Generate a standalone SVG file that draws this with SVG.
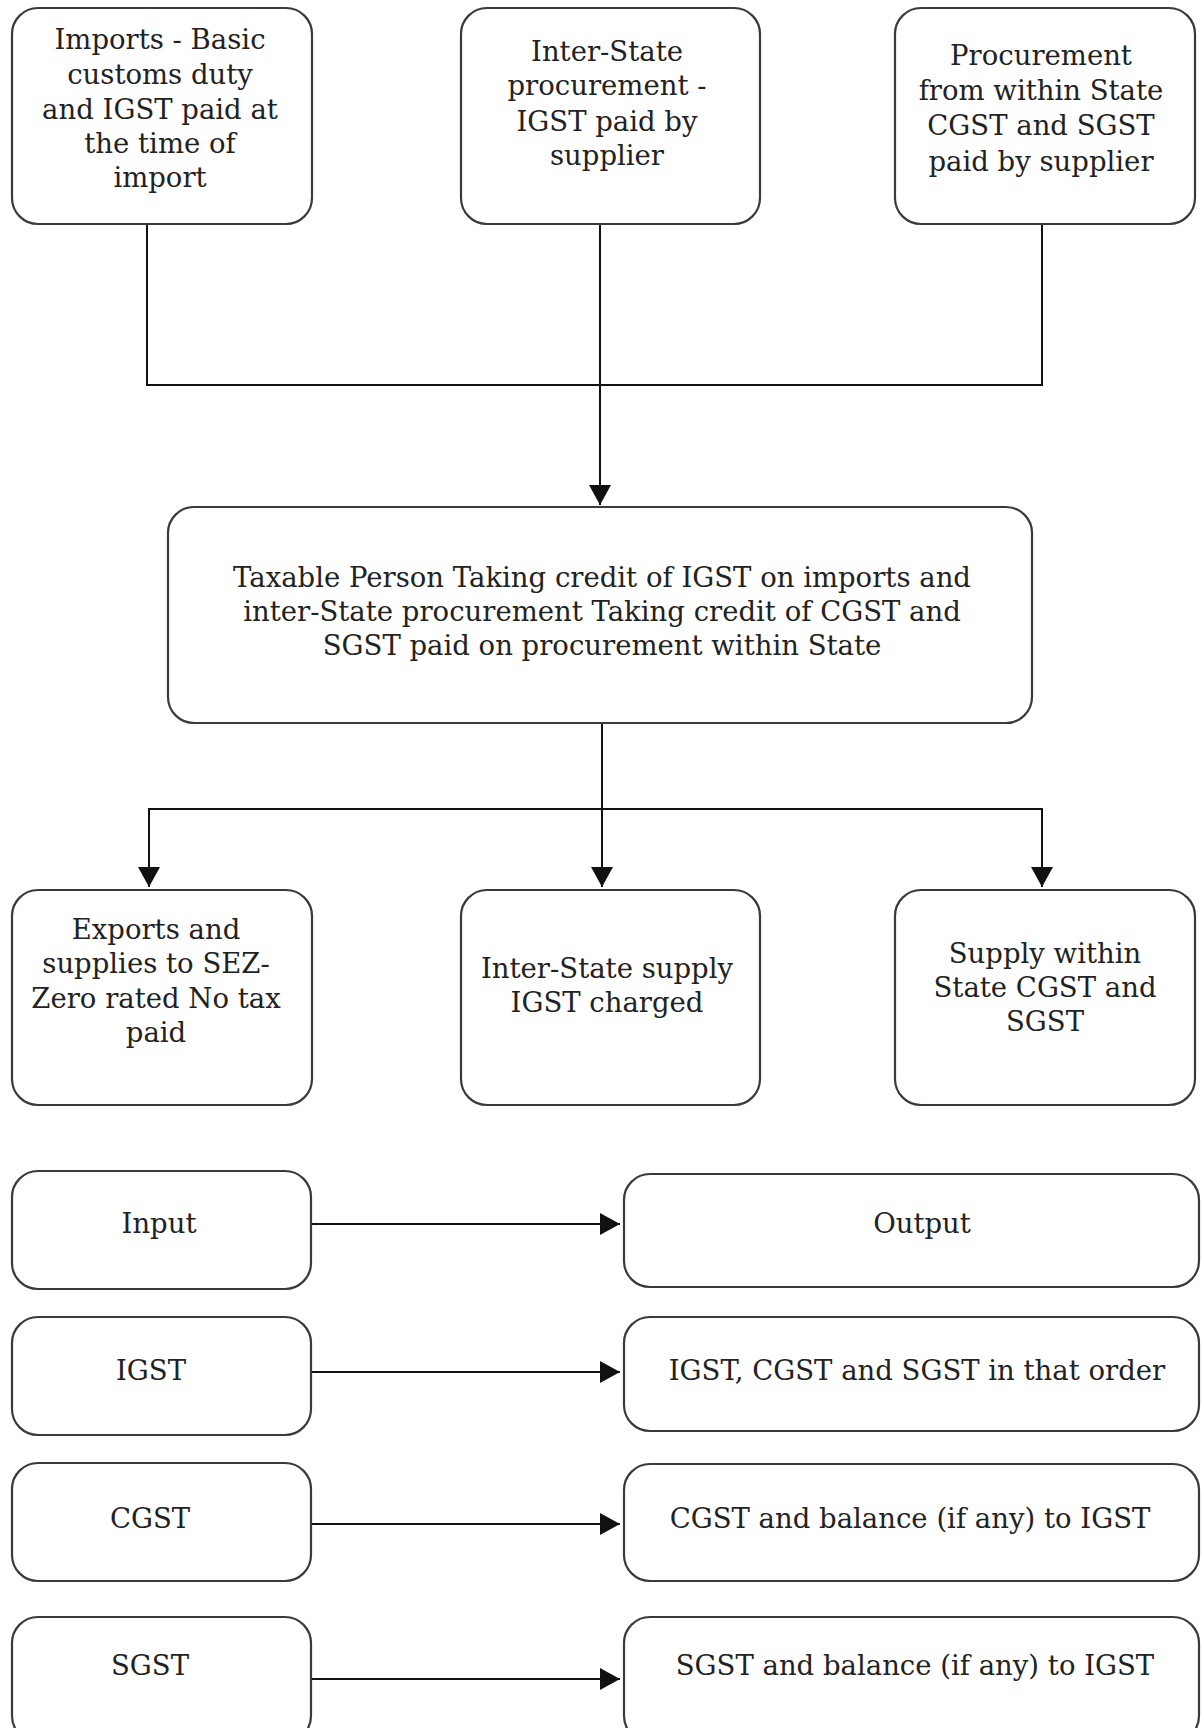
<svg xmlns="http://www.w3.org/2000/svg" width="1201" height="1728" viewBox="0 0 1201 1728">
<style>
.box{fill:#fff;stroke:#3a3a3a;stroke-width:2.2}
.t{font-family:"DejaVu Serif","Liberation Serif",serif;font-size:27.5px;fill:#222;text-anchor:middle}
.c{fill:none;stroke:#111;stroke-width:2}
</style>
<defs>
<marker id="ah" markerUnits="userSpaceOnUse" markerWidth="20" markerHeight="22" refX="20" refY="11" orient="auto">
<path d="M0,0 L20,11 L0,22 Z" fill="#111"/>
</marker>
</defs>
<rect width="1201" height="1728" fill="#fff"/>

<g id="connectors">
<polyline class="c" points="147,224 147,385 1042,385 1042,224"/>
<line class="c" x1="600" y1="224" x2="600" y2="505" marker-end="url(#ah)"/>
<line class="c" x1="602" y1="723" x2="602" y2="887" marker-end="url(#ah)"/>
<line class="c" x1="148" y1="809" x2="1043" y2="809"/>
<line class="c" x1="149" y1="808" x2="149" y2="887" marker-end="url(#ah)"/>
<line class="c" x1="1042" y1="808" x2="1042" y2="887" marker-end="url(#ah)"/>
<line class="c" x1="310" y1="1224" x2="620" y2="1224" marker-end="url(#ah)"/>
<line class="c" x1="310" y1="1372" x2="620" y2="1372" marker-end="url(#ah)"/>
<line class="c" x1="310" y1="1524" x2="620" y2="1524" marker-end="url(#ah)"/>
<line class="c" x1="310" y1="1679" x2="620" y2="1679" marker-end="url(#ah)"/>
</g>

<g id="imports">
<rect class="box" x="12" y="8" width="300" height="216" rx="26"/>
<text class="t" x="160" y="49">Imports - Basic</text>
<text class="t" x="160" y="84">customs duty</text>
<text class="t" x="160" y="119">and IGST paid at</text>
<text class="t" x="160" y="153">the time of</text>
<text class="t" x="160" y="187">import</text>
</g>

<g id="interstate-procurement">
<rect class="box" x="461" y="8" width="299" height="216" rx="26"/>
<text class="t" x="607" y="61">Inter-State</text>
<text class="t" x="607" y="95">procurement -</text>
<text class="t" x="607" y="131">IGST paid by</text>
<text class="t" x="607" y="165">supplier</text>
</g>

<g id="within-state-procurement">
<rect class="box" x="895" y="8" width="300" height="216" rx="26"/>
<text class="t" x="1041" y="65">Procurement</text>
<text class="t" x="1041" y="100">from within State</text>
<text class="t" x="1041" y="135">CGST and SGST</text>
<text class="t" x="1041" y="171">paid by supplier</text>
</g>

<g id="taxable-person">
<rect class="box" x="168" y="507" width="864" height="216" rx="26"/>
<text class="t" x="602" y="587">Taxable Person Taking credit of IGST on imports and</text>
<text class="t" x="602" y="621">inter-State procurement Taking credit of CGST and</text>
<text class="t" x="602" y="655">SGST paid on procurement within State</text>
</g>

<g id="exports">
<rect class="box" x="12" y="890" width="300" height="215" rx="26"/>
<text class="t" x="156" y="939">Exports and</text>
<text class="t" x="156" y="973">supplies to SEZ-</text>
<text class="t" x="156" y="1008">Zero rated No tax</text>
<text class="t" x="156" y="1042">paid</text>
</g>

<g id="interstate-supply">
<rect class="box" x="461" y="890" width="299" height="215" rx="26"/>
<text class="t" x="607" y="978">Inter-State supply</text>
<text class="t" x="607" y="1012">IGST charged</text>
</g>

<g id="within-state-supply">
<rect class="box" x="895" y="890" width="300" height="215" rx="26"/>
<text class="t" x="1045" y="963">Supply within</text>
<text class="t" x="1045" y="997">State CGST and</text>
<text class="t" x="1045" y="1031">SGST</text>
</g>

<g id="input">
<rect class="box" x="12" y="1171" width="299" height="118" rx="26"/>
<text class="t" x="159" y="1233">Input</text>
</g>
<g id="output">
<rect class="box" x="624" y="1174" width="575" height="113" rx="26"/>
<text class="t" x="922" y="1233">Output</text>
</g>

<g id="igst-in">
<rect class="box" x="12" y="1317" width="299" height="118" rx="26"/>
<text class="t" x="151" y="1380">IGST</text>
</g>
<g id="igst-out">
<rect class="box" x="624" y="1317" width="575" height="114" rx="26"/>
<text class="t" x="917" y="1380">IGST, CGST and SGST in that order</text>
</g>

<g id="cgst-in">
<rect class="box" x="12" y="1463" width="299" height="118" rx="26"/>
<text class="t" x="150" y="1528">CGST</text>
</g>
<g id="cgst-out">
<rect class="box" x="624" y="1464" width="575" height="117" rx="26"/>
<text class="t" x="910" y="1528">CGST and balance (if any) to IGST</text>
</g>

<g id="sgst-in">
<rect class="box" x="12" y="1617" width="299" height="125" rx="26"/>
<text class="t" x="150" y="1675">SGST</text>
</g>
<g id="sgst-out">
<rect class="box" x="624" y="1617" width="575" height="125" rx="26"/>
<text class="t" x="915" y="1675">SGST and balance (if any) to IGST</text>
</g>
</svg>
